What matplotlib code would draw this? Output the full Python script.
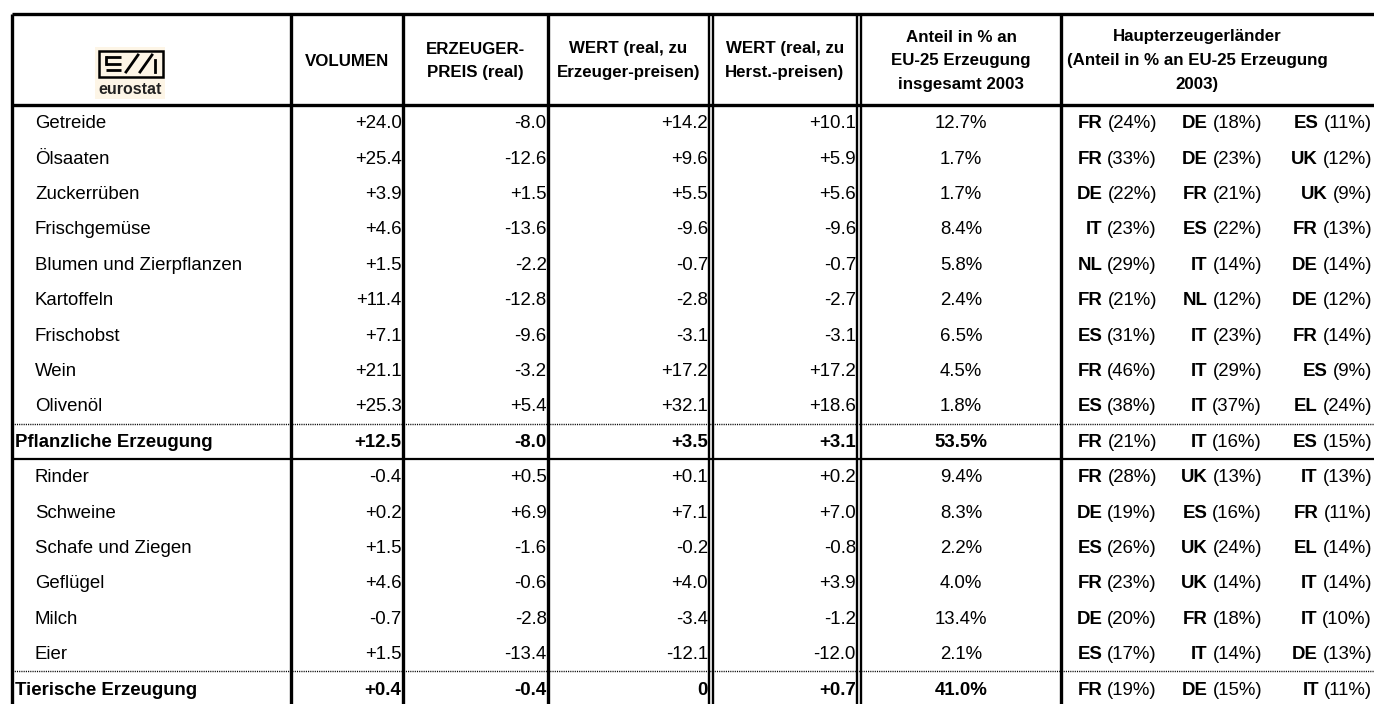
import matplotlib
matplotlib.use("Agg")
import matplotlib.pyplot as plt
from matplotlib.patches import Rectangle

plt.rcParams['font.family'] = ['Liberation Sans', 'DejaVu Sans']

# ---------------- data ----------------
products = ["Getreide", "Ölsaaten", "Zuckerrüben", "Frischgemüse", "Blumen und Zierpflanzen",
            "Kartoffeln", "Frischobst", "Wein", "Olivenöl", "Pflanzliche Erzeugung",
            "Rinder", "Schweine", "Schafe und Ziegen", "Geflügel", "Milch", "Eier",
            "Tierische Erzeugung"]
is_total = [False] * 9 + [True] + [False] * 6 + [True]

volumen = ["+24.0", "+25.4", "+3.9", "+4.6", "+1.5", "+11.4", "+7.1", "+21.1", "+25.3", "+12.5",
           "-0.4", "+0.2", "+1.5", "+4.6", "-0.7", "+1.5", "+0.4"]
erzeugerpreis = ["-8.0", "-12.6", "+1.5", "-13.6", "-2.2", "-12.8", "-9.6", "-3.2", "+5.4", "-8.0",
                 "+0.5", "+6.9", "-1.6", "-0.6", "-2.8", "-13.4", "-0.4"]
wert_erz = ["+14.2", "+9.6", "+5.5", "-9.6", "-0.7", "-2.8", "-3.1", "+17.2", "+32.1", "+3.5",
            "+0.1", "+7.1", "-0.2", "+4.0", "-3.4", "-12.1", "0"]
wert_herst = ["+10.1", "+5.9", "+5.6", "-9.6", "-0.7", "-2.7", "-3.1", "+17.2", "+18.6", "+3.1",
              "+0.2", "+7.0", "-0.8", "+3.9", "-1.2", "-12.0", "+0.7"]
anteil = ["12.7%", "1.7%", "1.7%", "8.4%", "5.8%", "2.4%", "6.5%", "4.5%", "1.8%", "53.5%",
          "9.4%", "8.3%", "2.2%", "4.0%", "13.4%", "2.1%", "41.0%"]
land1 = [("FR", 24), ("FR", 33), ("DE", 22), ("IT", 23), ("NL", 29), ("FR", 21), ("ES", 31),
         ("FR", 46), ("ES", 38), ("FR", 21), ("FR", 28), ("DE", 19), ("ES", 26), ("FR", 23),
         ("DE", 20), ("ES", 17), ("FR", 19)]
land2 = [("DE", 18), ("DE", 23), ("FR", 21), ("ES", 22), ("IT", 14), ("NL", 12), ("IT", 23),
         ("IT", 29), ("IT", 37), ("IT", 16), ("UK", 13), ("ES", 16), ("UK", 24), ("UK", 14),
         ("FR", 18), ("IT", 14), ("DE", 15)]
land3 = [("ES", 11), ("UK", 12), ("UK", 9), ("FR", 13), ("DE", 14), ("DE", 12), ("FR", 14),
         ("ES", 9), ("EL", 24), ("ES", 15), ("IT", 13), ("FR", 11), ("EL", 14), ("IT", 14),
         ("IT", 10), ("DE", 13), ("IT", 11)]

headers = ["VOLUMEN", "ERZEUGER-\nPREIS (real)", "WERT (real, zu\nErzeuger-preisen)",
           "WERT (real, zu\nHerst.-preisen)", "Anteil in % an\nEU-25 Erzeugung\ninsgesamt 2003",
           "Haupterzeugerländer\n(Anteil in % an EU-25 Erzeugung\n2003)"]

# ---------------- layout ----------------
W, H = 1374, 704
fig = plt.figure(figsize=(W / 100, H / 100), dpi=100)
ax = fig.add_axes([0, 0, 1, 1])
ax.set_xlim(0, W)
ax.set_ylim(H, 0)
ax.axis('off')

top, head_bot, row_h = 14, 105, 35.4
x_left = 12
x_lab = 291
x_vol = 403
x_erz = 548
x_w1 = (709, 713)
x_w2 = (857, 861)
x_ant = 1061
x_right = W + 20
n = len(products)
bottom = head_bot + n * row_h

K = 'black'
ax.plot([x_left, x_right], [top, top], color=K, lw=2.4, solid_capstyle='butt')
ax.plot([x_left, x_right], [head_bot, head_bot], color=K, lw=2.4, solid_capstyle='butt')
ax.plot([x_left, x_right], [bottom, bottom], color=K, lw=2.4, solid_capstyle='butt')
for x in [x_left, x_lab, x_vol, x_erz, x_ant]:
    ax.plot([x, x], [top, bottom], color=K, lw=2.4, solid_capstyle='butt')
for x in list(x_w1) + list(x_w2):
    ax.plot([x, x], [top, bottom], color=K, lw=1.7, solid_capstyle='butt')

for i in range(n):
    if is_total[i]:
        y0 = head_bot + i * row_h
        ax.plot([x_left, x_right], [y0, y0], color=K, lw=1.0, ls=(0, (0.8, 0.8)))
        if i < n - 1:
            y1 = head_bot + (i + 1) * row_h
            ax.plot([x_left, x_right], [y1, y1], color=K, lw=1.6, solid_capstyle='butt')

# ---------------- logo ----------------
ax.add_patch(Rectangle((95, 47), 70, 52, facecolor='#fdf5e6', edgecolor='none', zorder=1))
ax.add_patch(Rectangle((98.5, 50.5), 64, 26, facecolor='none', edgecolor=K, lw=1.8, zorder=2))
for yy in [57, 63.5, 70]:
    ax.plot([106, 121], [yy, yy], color=K, lw=2.0, zorder=3, solid_capstyle='butt')
ax.plot([106, 106], [57, 63.5], color=K, lw=2.0, zorder=3)
ax.plot([126, 138], [72, 55], color=K, lw=2.0, zorder=3)
ax.plot([140, 152], [72, 55], color=K, lw=2.0, zorder=3)
ax.plot([155, 155], [60, 72], color=K, lw=2.0, zorder=3)
ax.text(130, 89, "eurostat", ha='center', va='center', fontsize=11.5, fontweight='bold',
        color='#222222', zorder=3)

# ---------------- headers ----------------
hfs = 12.2
head_cx = [(x_lab + x_vol) / 2, (x_vol + x_erz) / 2, (x_erz + x_w1[0]) / 2,
           (x_w1[1] + x_w2[0]) / 2, (x_w2[1] + x_ant) / 2, 1197]
for cx, h in zip(head_cx, headers):
    ax.text(cx, 61, h, ha='center', va='center', fontsize=hfs,
            fontweight='bold', linespacing=1.75)

# ---------------- body ----------------
fs = 13.4
renderer = fig.canvas.get_renderer()

def country(xr, y, code, pct):
    t = ax.text(xr, y, f"({pct}%)", ha='right', va='center', fontsize=fs)
    bb = t.get_window_extent(renderer=renderer)
    ax.text(bb.x0 - 5, y, code, ha='right', va='center', fontsize=fs, fontweight='bold')

for i in range(n):
    y = head_bot + (i + 0.5) * row_h + 1
    fw = 'bold' if is_total[i] else 'normal'
    ax.text(15 if is_total[i] else 35, y, products[i], ha='left', va='center', fontsize=fs,
            fontweight=fw)
    ax.text(x_vol - 1.5, y, volumen[i], ha='right', va='center', fontsize=fs, fontweight=fw)
    ax.text(x_erz - 1.5, y, erzeugerpreis[i], ha='right', va='center', fontsize=fs, fontweight=fw)
    ax.text(x_w1[0] - 1, y, wert_erz[i], ha='right', va='center', fontsize=fs, fontweight=fw)
    ax.text(x_w2[0] - 1, y, wert_herst[i], ha='right', va='center', fontsize=fs, fontweight=fw)
    ax.text((x_w2[1] + x_ant) / 2, y, anteil[i], ha='center', va='center', fontsize=fs,
            fontweight=fw)
    for xr, (code, pct) in zip([1157, 1262, 1372], [land1[i], land2[i], land3[i]]):
        country(xr, y, code, pct)

fig.savefig("out.png", dpi=100)
